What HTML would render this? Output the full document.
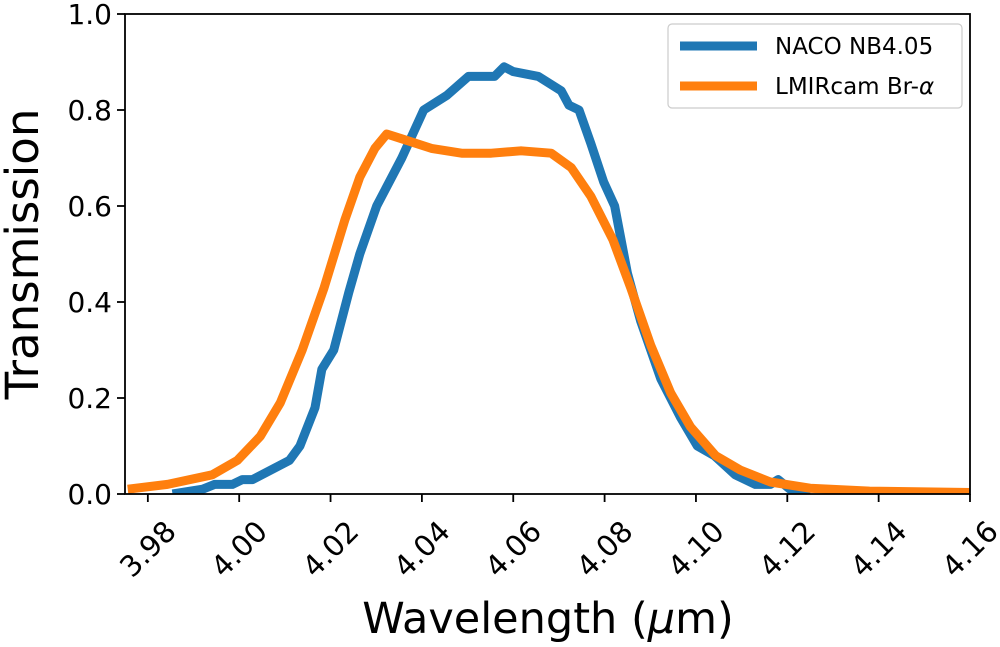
<!DOCTYPE html>
<html><head><meta charset="utf-8"><style>
html,body{margin:0;padding:0;background:#fff;}
svg{display:block;font-family:"DejaVu Sans","Liberation Sans",sans-serif;}
</style></head><body>
<svg id="chart" width="1000" height="647"></svg>
<script>
const blueX=[3.9854,3.992,3.9946,3.9985,4.0007,4.0029,4.011,4.0133,4.0166,4.0181,4.0207,4.024,4.0264,4.0301,4.0356,4.0404,4.0454,4.0502,4.0559,4.058,4.060,4.0655,4.0705,4.0722,4.0744,4.077,4.0798,4.0822,4.085,4.0879,4.0923,4.0966,4.1003,4.104,4.1086,4.113,4.1163,4.118,4.1206,4.125];
const blueY=[0,0.01,0.02,0.02,0.03,0.03,0.07,0.10,0.18,0.26,0.30,0.42,0.50,0.60,0.70,0.80,0.83,0.87,0.87,0.89,0.88,0.87,0.84,0.81,0.80,0.73,0.65,0.60,0.46,0.36,0.24,0.16,0.10,0.08,0.04,0.02,0.02,0.03,0.01,0.0];
const orangeX=[3.9756,3.9843,3.9941,3.9996,4.0046,4.009,4.0138,4.0186,4.0231,4.0264,4.0297,4.0323,4.0356,4.0421,4.0487,4.0552,4.0617,4.0683,4.0727,4.077,4.0818,4.0857,4.0901,4.0945,4.0988,4.1043,4.1097,4.1163,4.125,4.138,4.16];
const orangeY=[0.01,0.02,0.04,0.07,0.12,0.19,0.30,0.43,0.57,0.66,0.72,0.75,0.74,0.72,0.71,0.71,0.715,0.71,0.68,0.62,0.53,0.43,0.31,0.21,0.14,0.08,0.05,0.025,0.012,0.006,0.003];
const xTicks=[3.98,4.00,4.02,4.04,4.06,4.08,4.10,4.12,4.14,4.16];
const yTicks=[0.0,0.2,0.4,0.6,0.8,1.0];
const L=125,R=970,T=14,B=494,XMIN=3.9750,XMAX=4.16;
const sx=v=>L+(v-XMIN)/(XMAX-XMIN)*(R-L);
const sy=v=>B-v*(B-T);
const svg=document.getElementById('chart');
const NS='http://www.w3.org/2000/svg';
function mk(tag,attrs,parent){const e=document.createElementNS(NS,tag);for(const k in attrs)e.setAttribute(k,attrs[k]);(parent||svg).appendChild(e);return e;}
const clip=mk('clipPath',{id:'pc'});mk('rect',{x:L,y:T,width:R-L,height:B-T},clip);
function line(xs,ys,color,name){
  const p=mk('polyline',{points:xs.map((x,i)=>sx(x)+','+sy(ys[i])).join(' '),fill:'none',stroke:color,'stroke-width':9,'stroke-linejoin':'round','clip-path':'url(#pc)'});
  
  
}
line(blueX,blueY,'#1f77b4','naco-nb405-line');
line(orangeX,orangeY,'#ff7f0e','lmircam-bra-line');
const frame=mk('rect',{x:L,y:T,width:R-L,height:B-T,fill:'none',stroke:'#000','stroke-width':1.8});


xTicks.forEach(v=>{
  const x=sx(v);
  mk('line',{x1:x,y1:B,x2:x,y2:B+8,stroke:'#000','stroke-width':1.8});
  const t=mk('text',{x:0,y:0,'font-size':29,'text-anchor':'middle','dominant-baseline':'central',transform:`translate(${x},${B+55}) rotate(-45)`});
  t.textContent=v.toFixed(2);
  
  
});
yTicks.forEach(v=>{
  const y=sy(v);
  mk('line',{x1:L-8,y1:y,x2:L,y2:y,stroke:'#000','stroke-width':1.8});
  const t=mk('text',{x:L-13,y:y+10,'font-size':28,'text-anchor':'end'});
  t.textContent=v.toFixed(1);
  
  
});
const xt=mk('text',{x:548,y:633,'font-size':43,'text-anchor':'middle'});
xt.innerHTML='Wavelength (<tspan font-style="italic">\u03bc</tspan>m)';


const yt=mk('text',{x:0,y:0,'font-size':45,'text-anchor':'middle',transform:'translate(38,254) rotate(-90)'});
yt.textContent='Transmission';


const lg=mk('g',{});


mk('rect',{x:668,y:24,width:294,height:84,rx:4,fill:'#fff','fill-opacity':0.8,stroke:'#ccc','stroke-width':1.2},lg);
[['#1f77b4','NACO NB4.05',46],['#ff7f0e','LMIRcam Br-',86]].forEach(([c,lab,y],i)=>{
  const g=mk('g',{},lg);
  
  
  mk('line',{x1:680,y1:y,x2:757,y2:y,stroke:c,'stroke-width':9},g);
  const t=mk('text',{x:775,y:y+8,'font-size':23},g);
  t.textContent=lab;
  if(i===1){const s=mk('tspan',{'font-style':'italic'},t);s.textContent='\u03b1';}
});
</script>
</body></html>
